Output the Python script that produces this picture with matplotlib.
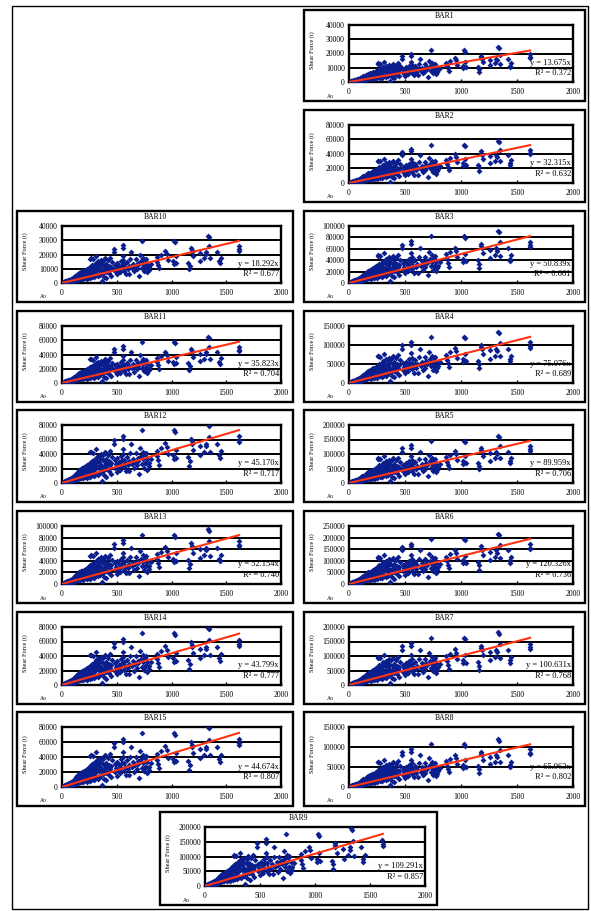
import numpy as np
import matplotlib
matplotlib.use("Agg")
from matplotlib import pyplot as plt
from matplotlib.patches import Rectangle
from matplotlib.transforms import Bbox, TransformedBbox

plt.rcParams["font.family"] = ["Liberation Serif", "DejaVu Serif"]

W, H = 591, 911

bars = ["BAR1", "BAR2", "BAR3", "BAR4", "BAR5", "BAR6", "BAR7", "BAR8",
        "BAR9", "BAR10", "BAR11", "BAR12", "BAR13", "BAR14", "BAR15"]
slopes = [13.675, 32.315, 50.839, 75.076, 89.959, 120.326, 100.631, 65.963,
          109.291, 18.292, 35.823, 45.170, 52.154, 43.799, 44.674]
r_squared = [0.372, 0.632, 0.661, 0.689, 0.706, 0.736, 0.768, 0.802,
             0.857, 0.677, 0.704, 0.717, 0.740, 0.777, 0.807]
y_max = [40000, 80000, 100000, 150000, 200000, 250000, 200000, 150000,
         200000, 40000, 80000, 80000, 100000, 80000, 80000]
y_step = [10000, 20000, 20000, 50000, 50000, 50000, 50000, 50000,
          50000, 10000, 20000, 20000, 20000, 20000, 20000]
x_ticks = [0, 500, 1000, 1500, 2000]

# Ao values and shear force
ao = [8, 12, 15, 18, 20, 24, 27, 30, 33, 36, 40, 42, 45, 48, 50, 53, 56, 58,
      61, 64, 66, 70, 72, 75, 78, 80, 83, 86, 88, 91, 94, 97,
      100, 103, 106, 110, 112, 115, 118, 121, 124, 127, 130, 133, 136, 139,
      142, 145, 148, 151, 154, 157, 160, 163, 166, 169, 172, 175, 178, 181,
      184, 187, 190, 193, 196, 199,
      203, 206, 209, 212, 215, 218, 221, 224, 227, 230, 233, 236, 239, 242,
      245, 248, 251, 254, 257, 260, 262, 265, 268, 271, 274, 277, 280, 283,
      286, 289, 292, 295, 298,
      302, 306, 310, 314, 318, 322, 326, 330, 334, 338, 342, 346, 350, 354,
      358, 362, 366, 370, 374, 378, 382, 386, 390, 394, 398, 402, 406, 410,
      415, 420, 425, 430, 435, 440, 445, 450, 455,
      476, 476, 480, 485, 490, 498, 505, 512, 520, 528, 535, 540, 548, 555,
      557, 558, 560, 562, 565, 575, 583, 592, 600, 610, 616, 625, 631, 640,
      650, 660, 667, 676, 681, 690, 698, 705, 714, 720, 728, 735, 738, 742,
      748, 755, 760, 765, 768, 775, 780, 790, 795, 810,
      869, 872, 880, 890, 905, 943, 958, 965, 1018, 1020, 1027, 1033, 1040,
      1045, 1151, 1160, 1165, 1181, 1183, 1185, 1200, 1256, 1260, 1300, 1315,
      1318, 1330, 1340, 1345, 1350, 1420, 1434, 1440, 1450, 1613, 1615, 1617]
shear_bar10 = [300, 150, 500, 700, 250, 900, 600, 1100, 400, 800, 1300, 700,
               1000, 1600, 500, 1200, 1900, 800, 1400, 2100, 1000, 1700, 2400,
               1200, 1900, 800, 2600, 1500, 2200, 3000, 1100, 2500,
               3300, 1800, 2700, 4000, 1400, 3100, 4600, 2200, 3500, 5200,
               1800, 4100, 2800, 5800, 3600, 2300, 6400, 4400, 3000, 7000,
               2600, 5100, 3800, 7600, 4800, 2900, 6200, 4200, 8100, 3400,
               5600, 7200, 2700, 4900,
               8700, 6300, 3600, 5400, 9300, 4300, 7400, 2900, 6800, 9800,
               5000, 3800, 8200, 6000, 10500, 4600, 7700, 3300, 11200, 17100,
               17400, 9000, 5700, 12300, 7100, 4200, 16800, 10200, 6400, 8500,
               12900, 3900, 11000,
               7800, 14200, 5300, 18900, 9700, 12400, 4600, 15300, 8900, 11700,
               6200, 13800, 5500, 10100, 16100, 1100, 8300, 12800, 6900, 15400,
               9600, 4500, 11900, 17200, 7600, 13300, 3600, 10400, 8100, 15800,
               12100, 6700, 17800, 9900, 5200, 11300, 14600,
               24200, 22000, 12600, 8300, 10400, 6100, 13700, 9100, 11800, 7400,
               15200, 10200, 12900, 26400, 24600, 19000, 16300, 8700, 13100,
               11000, 6600, 14600, 9800, 12200, 6600, 16500, 22000, 10700,
               13600, 8200, 11900, 16500, 9900, 14000, 12400, 4800, 19800,
               15200, 10600, 29700, 13300, 17500, 8500, 15800, 11000, 11000,
               16800, 7400, 13500, 9300, 11000, 13200,
               18000, 14900, 12700, 10300, 19600, 22400, 20200, 16100, 15400,
               13500, 29700, 28600, 18600, 14000, 14300, 9500, 12200, 24600,
               23200, 22000, 18700, 20900, 15600, 17500, 22000, 20500, 33000,
               32000, 25800, 17200, 22000, 15400, 13800, 17600, 26000, 23800,
               22700]

# panel frames in pixels: x0, y0, x1, y1
frames = [(304, 10, 585, 101), (304, 110, 585, 202), (304, 211, 585, 302),
          (304, 311, 585, 402), (304, 410, 585, 502), (304, 511, 585, 603),
          (304, 612, 585, 704), (304, 712, 585, 806), (160, 812, 437, 905),
          (17, 211, 293, 302), (17, 311, 293, 402), (17, 410, 293, 502),
          (17, 511, 293, 603), (17, 612, 293, 704), (17, 712, 293, 806)]

ao = np.array(ao, dtype=float)
shear_bar10 = np.array(shear_bar10, dtype=float)
ref_slope = slopes[bars.index("BAR10")]

fig = plt.figure(figsize=(W / 100, H / 100), dpi=100)


def to_fig(x0, y0, x1, y1):
    return [x0 / W, 1 - y1 / H, (x1 - x0) / W, (y1 - y0) / H]


fig.patches.append(Rectangle((12 / W, 1 - 909 / H), 576 / W, 903 / H,
                             transform=fig.transFigure, fill=False,
                             lw=1.0, ec="black"))

for name, k, r2, ymax, step, (x0, y0, x1, y1) in zip(
        bars, slopes, r_squared, y_max, y_step, frames):
    fig.patches.append(Rectangle((x0 / W, 1 - y1 / H), (x1 - x0) / W,
                                 (y1 - y0) / H, transform=fig.transFigure,
                                 fill=False, lw=1.7, ec="black"))
    ax = fig.add_axes(to_fig(x0 + 45, y0 + 15, x1 - 12, y1 - 19))
    ax.set_xlim(0, 2000)
    ax.set_ylim(0, ymax)
    yt = np.arange(0, ymax + 1, step)
    ax.set_yticks(yt)
    ax.set_xticks(x_ticks)
    for y in yt[1:-1]:
        ax.axhline(y, color="black", lw=1.4, zorder=1)
    for sp in ax.spines.values():
        sp.set_linewidth(1.7)

    shear = shear_bar10 * k / ref_slope
    ax.scatter(ao, shear, marker="D", s=9, color="#0b1e8e", lw=0, zorder=3)
    x_end = ao.max()
    ax.plot([0, x_end], [0, k * x_end], color="#ff3311", lw=1.5, zorder=4)

    ax.tick_params(axis="y", length=0, labelsize=5.5, pad=3)
    ax.tick_params(axis="x", direction="in", length=2.5, width=1,
                   labelsize=5.5, pad=4.5)
    clip = TransformedBbox(Bbox.from_extents(x0 / W, 1 - y1 / H,
                                             (x1 - 1) / W, 1 - y0 / H),
                           fig.transFigure)
    for lbl in ax.get_xticklabels():
        lbl.set_clip_box(clip)
        lbl.set_clip_on(True)

    ax.text(0.99, 0.34, f"y = {k:.3f}x", transform=ax.transAxes,
            ha="right", va="center", fontsize=6, clip_on=True, zorder=5)
    ax.text(0.99, 0.16, f"R² = {r2:.3f}", transform=ax.transAxes,
            ha="right", va="center", fontsize=6, clip_on=True, zorder=5)

    fig.text((x0 + x1) / 2 / W, 1 - (y0 + 6) / H, name, ha="center",
             va="center", fontsize=5.5)
    fig.text((x0 + 8) / W, 1 - (y0 + y1 - 10) / 2 / H, "Shear Force (t)",
             rotation=90, ha="center", va="center", fontsize=4.5)
    fig.text((x0 + 26) / W, 1 - (y1 - 5) / H, "Ao", ha="center",
             va="center", fontsize=4)

fig.savefig("out.png", dpi=100)
